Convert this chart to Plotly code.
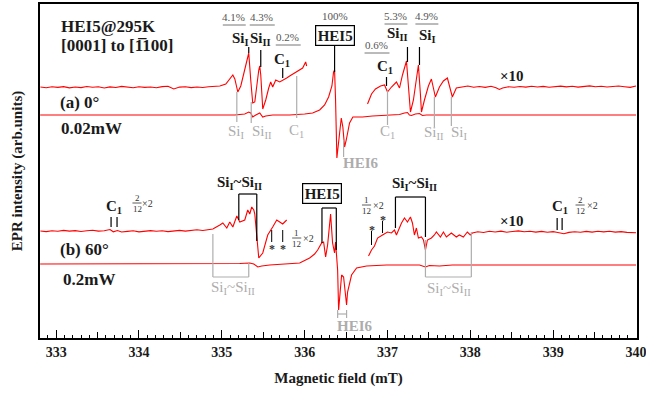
import plotly.graph_objects as go

# ---------------- data (field in mT, EPR intensity in arb. units) ----------------
# (a) 0 deg, x10 trace, low-field part
a10_left_B = [332.81, 332.88, 332.95, 333.02, 333.09, 333.16, 333.23, 333.30, 333.37, 333.44,
              333.51, 333.58, 333.65, 333.72, 333.79, 333.86, 333.93, 334.00, 334.07, 334.14,
              334.21, 334.28, 334.35, 334.42, 334.49, 334.56, 334.63, 334.70, 334.77, 334.84,
              334.91, 334.976, 335.048, 335.096, 335.133, 335.157, 335.193, 335.229, 335.277, 335.313,
              335.325, 335.349, 335.373, 335.398, 335.422, 335.446, 335.458, 335.470, 335.494, 335.530,
              335.566, 335.590, 335.614, 335.651, 335.699, 335.747, 335.783, 335.819, 335.855, 335.904,
              335.940, 335.976, 336.000, 336.012, 336.024]
a10_left_I = [251.0, 250.2, 251.3, 250.6, 251.4, 250.1, 251.0, 250.4, 251.5, 250.7,
              251.2, 250.0, 251.1, 250.5, 251.6, 250.8, 250.2, 251.3, 250.6, 251.0,
              250.3, 251.4, 251.8, 249.0, 250.9, 251.2, 250.4, 251.0, 250.5, 251.3,
              251.6, 252.0, 254.0, 259.0, 263.0, 259.0, 246.0, 252.0, 268.0, 282.0,
              285.0, 258.0, 235.0, 236.0, 253.0, 268.0, 272.0, 263.0, 229.0, 238.0,
              250.0, 256.0, 251.0, 258.0, 256.0, 258.0, 260.0, 262.0, 264.0, 266.0,
              268.0, 270.0, 274.0, 276.0, 272.0]
# (a) 0 deg, x10 trace, high-field part
a10_right_B = [336.759, 336.807, 336.855, 336.916, 336.964, 337.000, 337.048, 337.108, 337.145, 337.181,
               337.229, 337.253, 337.277, 337.313, 337.349, 337.373, 337.398, 337.410, 337.446, 337.494,
               337.530, 337.578, 337.627, 337.675, 337.723, 337.759, 337.783, 337.831, 337.904, 337.97,
               338.04, 338.11, 338.18, 338.25, 338.31, 338.35, 338.39, 338.46, 338.53, 338.60,
               338.67, 338.74, 338.81, 338.88, 338.95, 339.02, 339.09, 339.16, 339.23, 339.30,
               339.37, 339.44, 339.51, 339.58, 339.65, 339.72, 339.79, 339.86, 339.93, 340.00]
a10_right_I = [234.0, 244.0, 249.0, 252.0, 253.0, 246.0, 251.0, 256.0, 250.0, 263.0,
               277.0, 250.0, 226.0, 238.0, 260.0, 273.0, 243.0, 226.0, 238.0, 252.0,
               259.0, 241.0, 251.0, 257.0, 260.0, 250.0, 241.0, 250.0, 251.0, 252.0,
               250.8, 251.5, 250.6, 251.8, 250.2, 248.5, 250.0, 251.3, 250.7, 251.5,
               250.9, 251.8, 251.0, 251.6, 250.8, 251.4, 251.9, 251.1, 251.7, 250.9,
               251.5, 252.1, 251.2, 251.8, 251.0, 251.6, 252.0, 251.3, 250.6, 252.0]
# (a) 0 deg, full-scale trace
a_base_B = [332.807, 333.5, 334.2, 334.9, 335.157, 335.277, 335.325, 335.349, 335.373, 335.410,
            335.458, 335.494, 335.530, 335.614, 335.819, 336.000, 336.096, 336.181, 336.241, 336.289,
            336.329, 336.349, 336.361, 336.373, 336.389, 336.422, 336.442, 336.461, 336.482, 336.502,
            336.542, 336.582, 336.639, 336.699, 336.819, 336.988, 337.145, 337.205, 337.241, 337.265,
            337.289, 337.337, 337.386, 337.422, 337.470, 337.627, 337.867, 338.349, 339.2, 340.0]
a_base_I = [223.0, 223.2, 222.9, 223.1, 223.0, 224.0, 226.0, 225.0, 221.0, 223.0,
            225.0, 221.0, 222.0, 223.0, 223.0, 224.0, 225.0, 228.0, 233.0, 241.0,
            252.0, 266.0, 268.0, 238.0, 180.0, 205.0, 220.0, 211.0, 191.0, 198.0,
            215.0, 221.0, 221.0, 221.0, 222.0, 223.0, 223.5, 225.0, 225.5, 223.0,
            222.5, 224.0, 224.5, 222.5, 223.0, 223.0, 223.0, 223.0, 223.0, 223.0]
# (b) 60 deg, x10 trace, low-field part
b10_left_B = [332.81, 332.88, 332.95, 333.02, 333.09, 333.16, 333.23, 333.30, 333.37, 333.44,
              333.51, 333.58, 333.65, 333.69, 333.74, 333.79, 333.86, 333.93, 334.00, 334.07,
              334.14, 334.21, 334.28, 334.35, 334.42, 334.49, 334.56, 334.63, 334.70, 334.77,
              334.84, 334.892, 334.976, 335.012, 335.060, 335.096, 335.133, 335.181, 335.217, 335.277,
              335.313, 335.337, 335.361, 335.386, 335.398, 335.422, 335.446, 335.494, 335.554, 335.614,
              335.663, 335.699, 335.735, 335.783]
b10_left_I = [107.0, 106.4, 107.3, 106.8, 107.6, 106.9, 107.4, 106.5, 107.2, 107.8,
              106.9, 107.3, 108.5, 106.2, 107.5, 106.0, 106.6, 107.2, 106.1, 106.8,
              107.4, 106.7, 107.3, 106.4, 107.0, 107.6, 106.9, 107.8, 108.2, 107.5,
              108.3, 109.0, 113.0, 115.0, 110.0, 116.0, 111.0, 122.0, 116.0, 118.0,
              128.0, 124.0, 131.0, 128.0, 124.0, 98.0, 80.0, 85.0, 103.0, 111.0,
              118.0, 116.0, 114.0, 118.0]
# (b) 60 deg, x10 trace, high-field part
b10_right_B = [336.771, 336.807, 336.843, 336.880, 336.940, 337.000, 337.048, 337.084, 337.108, 337.169,
               337.205, 337.241, 337.277, 337.301, 337.325, 337.349, 337.373, 337.410, 337.434, 337.458,
               337.482, 337.530, 337.566, 337.590, 337.639, 337.675, 337.711, 337.771, 337.831, 337.867,
               337.916, 337.964, 338.000, 338.024, 338.09, 338.16, 338.23, 338.30, 338.37, 338.44,
               338.51, 338.58, 338.65, 338.72, 338.79, 338.86, 338.93, 339.00, 339.04, 339.08,
               339.13, 339.19, 339.26, 339.33, 339.40, 339.47, 339.54, 339.61, 339.68, 339.75,
               339.82, 339.89, 339.96, 340.00]
b10_right_I = [82.0, 88.0, 92.0, 100.0, 103.0, 106.0, 105.0, 108.0, 103.0, 115.0,
               120.0, 116.0, 121.0, 115.0, 103.0, 110.0, 100.0, 101.0, 98.0, 88.0,
               98.0, 100.0, 103.0, 106.0, 101.0, 106.0, 101.0, 105.0, 101.0, 103.0,
               101.0, 106.0, 103.0, 105.0, 106.3, 105.5, 106.8, 106.0, 106.9, 105.8,
               106.5, 107.1, 106.2, 106.8, 105.9, 106.6, 105.7, 106.4, 105.8, 105.2,
               104.2, 105.6, 106.3, 105.8, 106.6, 105.9, 106.8, 106.1, 106.7, 105.9,
               106.4, 105.6, 105.1, 105.3]
# (b) 60 deg, full-scale trace
b_base_B = [332.807, 333.5, 334.2, 334.8, 335.217, 335.337, 335.386, 335.434, 335.482, 335.578,
            335.735, 335.940, 336.060, 336.120, 336.157, 336.205, 336.229, 336.253, 336.277, 336.313,
            336.337, 336.361, 336.373, 336.398, 336.410, 336.428, 336.446, 336.470, 336.494, 336.506,
            336.518, 336.542, 336.566, 336.627, 336.747, 336.988, 337.265, 337.386, 337.458, 337.506,
            337.627, 337.783, 338.349, 339.2, 340.0]
b_base_I = [74.0, 74.2, 73.9, 74.1, 74.5, 75.0, 74.0, 71.0, 72.0, 73.0,
            74.0, 75.0, 80.0, 84.0, 88.0, 95.0, 96.0, 81.0, 93.0, 124.0,
            95.0, 85.0, 96.0, 68.0, 28.0, 48.0, 63.0, 61.0, 38.0, 33.0,
            46.0, 56.0, 63.0, 70.0, 72.0, 73.0, 73.5, 73.0, 71.0, 72.5,
            72.0, 73.0, 73.0, 73.0, 73.0]

X_RANGE = [332.805, 340.012]
Y_RANGE = [0, 334]
X_TICKS = [333, 334, 335, 336, 337, 338, 339, 340]

FONT = "Liberation Serif"
RED = "#ff0000"
INK = "#1a1a1a"
GRAY = "#adadad"
PCT = "#555555"

fig = go.Figure()
for B, I in [(a10_left_B, a10_left_I), (a10_right_B, a10_right_I), (a_base_B, a_base_I),
             (b10_left_B, b10_left_I), (b10_right_B, b10_right_I), (b_base_B, b_base_I)]:
    fig.add_trace(go.Scatter(x=B, y=I, mode="lines", line=dict(color=RED, width=1.1),
                             showlegend=False, hoverinfo="skip"))

ann = []
shapes = []


def txt(x, y, s, size=15, color=INK, bold=True, xanchor="center", **kw):
    d = dict(x=x, y=y, xref="x", yref="y", text=("<b>%s</b>" % s) if bold else s,
             showarrow=False, xanchor=xanchor, yanchor="middle",
             font=dict(family=FONT, size=size, color=color))
    d.update(kw)
    ann.append(d)


def vline(x, y0, y1, color="black", width=1.2):
    shapes.append(dict(type="line", xref="x", yref="y", x0=x, x1=x, y0=y0, y1=y1,
                       line=dict(color=color, width=width)))


def hline(x0, x1, y, color="black", width=1.2):
    shapes.append(dict(type="line", xref="x", yref="y", x0=x0, x1=x1, y0=y, y1=y,
                       line=dict(color=color, width=width)))


def frac(x, y, num, xpos, size=9):
    txt(x, y + 5, num, size=size, color="#333333", bold=False)
    hline(x - 0.055, x + 0.055, y, color="#333333", width=0.8)
    txt(x, y - 5.5, "12", size=size, color="#333333", bold=False)
    txt(xpos, y, "×2", size=10, color="#333333", bold=False)


def star(x, y):
    # the asterisk glyph sits high in its em box, so anchor it a little lower
    txt(x, y - 3, "*", size=12, color="#333333", bold=True)


# ---- left-hand labels
txt(333.036, 312, "HEI5@295K", size=17, xanchor="left")
txt(333.036, 293, "[0001] to [1\u0305100]", size=17, xanchor="left")
txt(333.024, 236, "(a) 0°", size=17, xanchor="left")
txt(333.036, 210, "0.02mW", size=17, xanchor="left")
txt(333.024, 89, "(b) 60°", size=17, xanchor="left")
txt(333.060, 59, "0.2mW", size=17, xanchor="left")
txt(338.506, 262, "×10", size=15)
txt(338.506, 117, "×10", size=15)

# ---- (a) top labels with relative intensities
pct_a = [(335.145, "4.1%", 335.012, 335.289, 313), (335.482, "4.3%", 335.337, 335.639, 313),
         (335.795, "0.2%", 335.651, 335.952, 293), (336.867, "0.6%", 336.723, 337.024, 285),
         (337.096, "5.3%", 336.964, 337.241, 314), (337.470, "4.9%", 337.337, 337.614, 314)]
for x, s, x0, x1, yb in pct_a:
    txt(x, yb + 8, s, size=11, color=PCT, bold=False)
    hline(x0, x1, yb, color="#777777", width=1)
txt(336.361, 322, "100%", size=11, color=PCT, bold=False)

txt(335.229, 299, "Si<sub>I</sub>")
txt(335.464, 299, "Si<sub>II</sub>")
txt(335.729, 278, "C<sub>1</sub>")
txt(336.970, 271, "C<sub>1</sub>")
txt(337.120, 304, "Si<sub>II</sub>")
txt(337.482, 302, "Si<sub>I</sub>")
txt(336.361, 303, "HEI5", bordercolor="black", borderwidth=1.2, borderpad=1.5, bgcolor="white")

for x, y0, y1 in [(335.325, 291, 285), (335.470, 288, 271), (335.735, 270, 260), (336.361, 294, 266),
                  (336.988, 261, 252), (337.241, 291, 276), (337.386, 291, 273)]:
    vline(x, y0, y1)

# ---- (a) grey labels
for x, y0, y1 in [(335.181, 246, 216), (335.355, 236, 215), (335.904, 262, 220), (337.000, 247, 213),
                  (337.566, 241, 211), (337.771, 241, 212), (336.470, 198, 181)]:
    vline(x, y0, y1, color=GRAY, width=1.2)
for x, y, s in [(335.181, 206, "Si<sub>I</sub>"), (335.482, 206, "Si<sub>II</sub>"),
                (335.904, 207, "C<sub>1</sub>"), (337.000, 206, "C<sub>1</sub>"),
                (337.566, 205, "Si<sub>II</sub>"), (337.867, 205, "Si<sub>I</sub>")]:
    txt(x, y, s, size=15, color=GRAY, bold=False)
txt(336.681, 175, "HEI6", size=15, color=GRAY)

# ---- (b) labels
txt(333.699, 131, "C<sub>1</sub>")
frac(333.976, 135, "2", 334.108)
vline(333.663, 121, 111)
vline(333.735, 121, 111)

txt(335.217, 155, "Si<sub>I</sub>~Si<sub>II</sub>")
hline(335.205, 335.422, 144)
vline(335.205, 144, 118)
vline(335.422, 144, 97)

for x in [335.602, 335.735]:
    vline(x, 108, 96, width=1)
    star(x, 92)
frac(335.904, 100, "1", 336.048)

txt(336.205, 145, "HEI5", bordercolor="black", borderwidth=1.2, borderpad=1.5, bgcolor="white")
hline(336.209, 336.382, 130)
vline(336.209, 130, 95)
vline(336.382, 130, 88)

vline(336.807, 107, 93, width=1)
star(336.807, 111)
vline(336.940, 117, 105, width=1)
star(336.940, 121)
frac(336.747, 133, "1", 336.895)

txt(337.325, 154, "Si<sub>I</sub>~Si<sub>II</sub>")
hline(337.096, 337.458, 141)
vline(337.096, 141, 110)
vline(337.458, 141, 101)

txt(339.084, 131, "C<sub>1</sub>")
frac(339.325, 133, "2", 339.470)
vline(339.048, 120, 108)
vline(339.108, 120, 108)

# (b) grey brackets
vline(334.892, 104, 61, color=GRAY)
vline(335.325, 75, 61, color=GRAY)
hline(334.892, 335.325, 61, color=GRAY)
vline(337.458, 98, 61, color=GRAY)
vline(338.012, 106, 61, color=GRAY)
hline(337.458, 338.012, 61, color=GRAY)
hline(336.398, 336.506, 24, color=GRAY)
vline(336.398, 28, 20, color=GRAY)
vline(336.506, 28, 20, color=GRAY)
txt(335.133, 50, "Si<sub>I</sub>~Si<sub>II</sub>", size=15, color=GRAY, bold=False)
txt(337.747, 49, "Si<sub>I</sub>~Si<sub>II</sub>", size=15, color=GRAY, bold=False)
txt(336.602, 12, "HEI6", size=15, color=GRAY)

fig.update_layout(
    width=646, height=394,
    margin=dict(l=40, r=9, t=4, b=56, autoexpand=False),
    paper_bgcolor="white", plot_bgcolor="white",
    annotations=ann, shapes=shapes,
    xaxis=dict(range=X_RANGE, tickvals=X_TICKS, ticks="inside", ticklen=8, tickwidth=1.2,
               tickcolor="black", showgrid=False, zeroline=False, showline=True, linecolor="black",
               linewidth=1.5, mirror=True, automargin=False, ticklabeloverflow="allow",
               tickfont=dict(family=FONT, size=14, color=INK, weight="bold"),
               minor=dict(ticks="inside", dtick=0.1, tick0=333, ticklen=3.5, tickwidth=1, tickcolor="black"),
               title=dict(text="Magnetic field (mT)", standoff=14,
                          font=dict(family=FONT, size=15, color=INK, weight="bold"))),
    xaxis2=dict(range=X_RANGE, overlaying="x", anchor="y", side="bottom", ticks="inside",
                dtick=0.5, tick0=333, ticklen=6, tickwidth=1, tickcolor="black", automargin=False,
                showticklabels=False, showgrid=False, zeroline=False, showline=False),
    yaxis=dict(range=Y_RANGE, showticklabels=False, ticks="", showgrid=False, zeroline=False,
               showline=True, linecolor="black", linewidth=1.5, mirror=True, automargin=False,
               title=dict(text="EPR intensity (arb.units)", standoff=12,
                          font=dict(family=FONT, size=15, color=INK, weight="bold"))),
)
# invisible carrier so the half-unit tick axis is drawn
fig.add_trace(go.Scatter(x=[X_RANGE[0]], y=[Y_RANGE[0]], xaxis="x2", mode="lines",
                         showlegend=False, hoverinfo="skip", line=dict(width=0)))

# remove the browser's default 8px page margin so the figure fills the window exactly
fig.write_html("out.html", config={"displayModeBar": False},
               post_script="document.body.style.margin='0px';")
